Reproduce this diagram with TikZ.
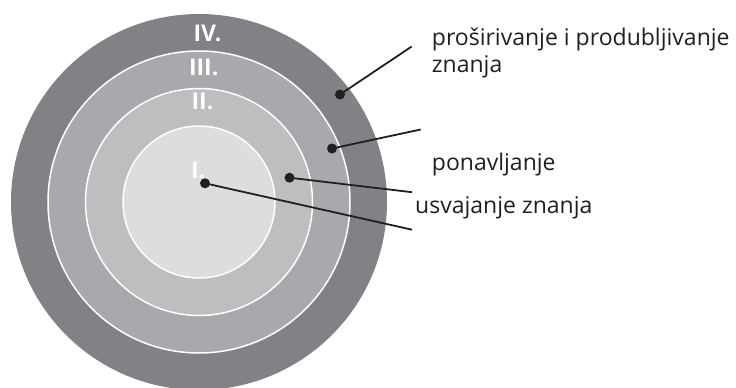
\documentclass[tikz,border=0pt]{standalone}
\usepackage{fontspec}
\setmainfont{Open Sans}
\begin{document}
\begin{tikzpicture}[x=1pt,y=-1pt,
  ring/.style={draw=white,line width=1.5pt},
  numlbl/.style={text=white,font=\fontsize{23}{23}\selectfont\bfseries,inner sep=0pt,anchor=base},
  dotnode/.style={circle,fill=ink,inner sep=0pt,minimum size=10pt},
  lead/.style={draw=ink,line width=1.8pt},
  txt/.style={text=ink,font=\fontsize{23}{27.5}\selectfont,inner sep=0pt,anchor=base west,align=left}]
\definecolor{ink}{HTML}{231F20}
\definecolor{g4}{HTML}{808285}
\definecolor{g3}{HTML}{A7A9AC}
\definecolor{g2}{HTML}{BCBEC0}
\definecolor{g1}{HTML}{DCDDDE}
\useasboundingbox (0,0) rectangle (736,388);
\fill[g4] (199,202) circle (188);
\filldraw[fill=g3,ring] (199,202) circle (151);
\filldraw[fill=g2,ring] (199,202) circle (113.5);
\filldraw[fill=g1,ring] (199,202) circle (76);
\node[numlbl] (n4) at (207.5,41.5) {IV.};
\node[numlbl] (n3) at (203.7,75) {III.};
\node[numlbl] (n2) at (202.5,109.3) {II.};
\node[numlbl] (n1) at (198.3,178.3) {I.};
\node[dotnode] (d4) at (340,94.5) {};
\node[dotnode] (d3) at (332,148.5) {};
\node[dotnode] (d2) at (289.5,177.7) {};
\node[dotnode] (d1) at (205,183.3) {};
\coordinate (e4) at (411.7,46.5);
\coordinate (e3) at (420.7,129.5);
\coordinate (e2) at (412,192.2);
\coordinate (e1) at (412,229.7);
\draw[lead] (d4.center) -- (e4);
\draw[lead] (d3.center) -- (e3);
\draw[lead] (d2.center) -- (e2);
\draw[lead] (d1.center) -- (e1);
\node[txt] (t4) at (431.7,72.7) {proširivanje i produbljivanje\\znanja};
\node[txt] (t2) at (431.7,170) {ponavljanje};
\node[txt] (t1) at (415,213.3) {usvajanje znanja};
\end{tikzpicture}
\end{document}
